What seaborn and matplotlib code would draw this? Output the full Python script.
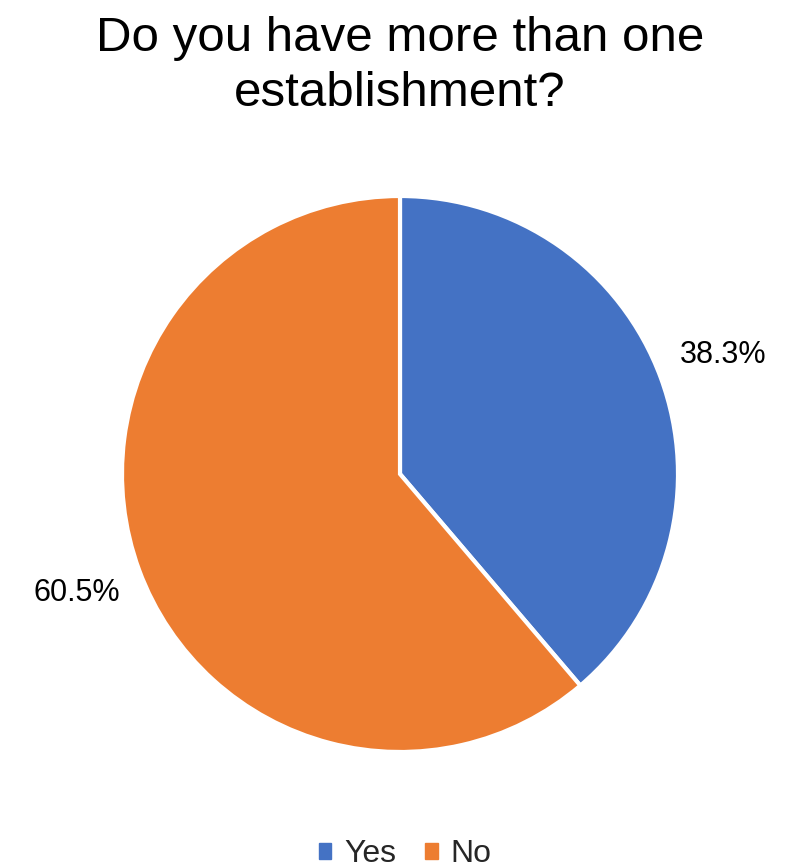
import matplotlib
matplotlib.use("Agg")
import matplotlib.pyplot as plt
import seaborn as sns

categories = ["Yes", "No"]
values = [38.3, 60.5]
value_labels = ["38.3%", "60.5%"]
colors = ["#4472C4", "#ED7D31"]
title = "Do you have more than one\nestablishment?"

sns.set_theme(style="white")
plt.rcParams['font.family'] = ['Liberation Sans', 'DejaVu Sans']

W, H = 787, 868
fig = plt.figure(figsize=(W / 100, H / 100), dpi=100)
cx, cy, r = 400, 474, 278
ax = fig.add_axes([(cx - r) / W, (H - cy - r) / H, 2 * r / W, 2 * r / H])

wedges, texts = ax.pie(values, labels=value_labels, colors=colors, startangle=90,
                       counterclock=False, labeldistance=1.24,
                       wedgeprops=dict(edgecolor="white", linewidth=3),
                       textprops=dict(fontsize=22, color="#000000"))
for t in texts:
    t.set_ha("center")
    t.set_va("center")
ax.set_xlim(-1, 1)
ax.set_ylim(-1, 1)
ax.set_aspect("equal")
ax.axis("off")

fig.text(cx / W, 1 - 66 / H, title, ha="center", va="center", fontsize=35.5,
         color="#000000", linespacing=1.3)

handles = [plt.Rectangle((0, 0), 1, 1, color=c) for c in colors]
fig.legend(handles, categories, loc="center", bbox_to_anchor=(405 / W, 1 - 854 / H),
           ncol=2, frameon=False, fontsize=23, handlelength=0.4, handleheight=0.4,
           handletextpad=0.4, columnspacing=0.9)

fig.savefig("out.png", dpi=100)
